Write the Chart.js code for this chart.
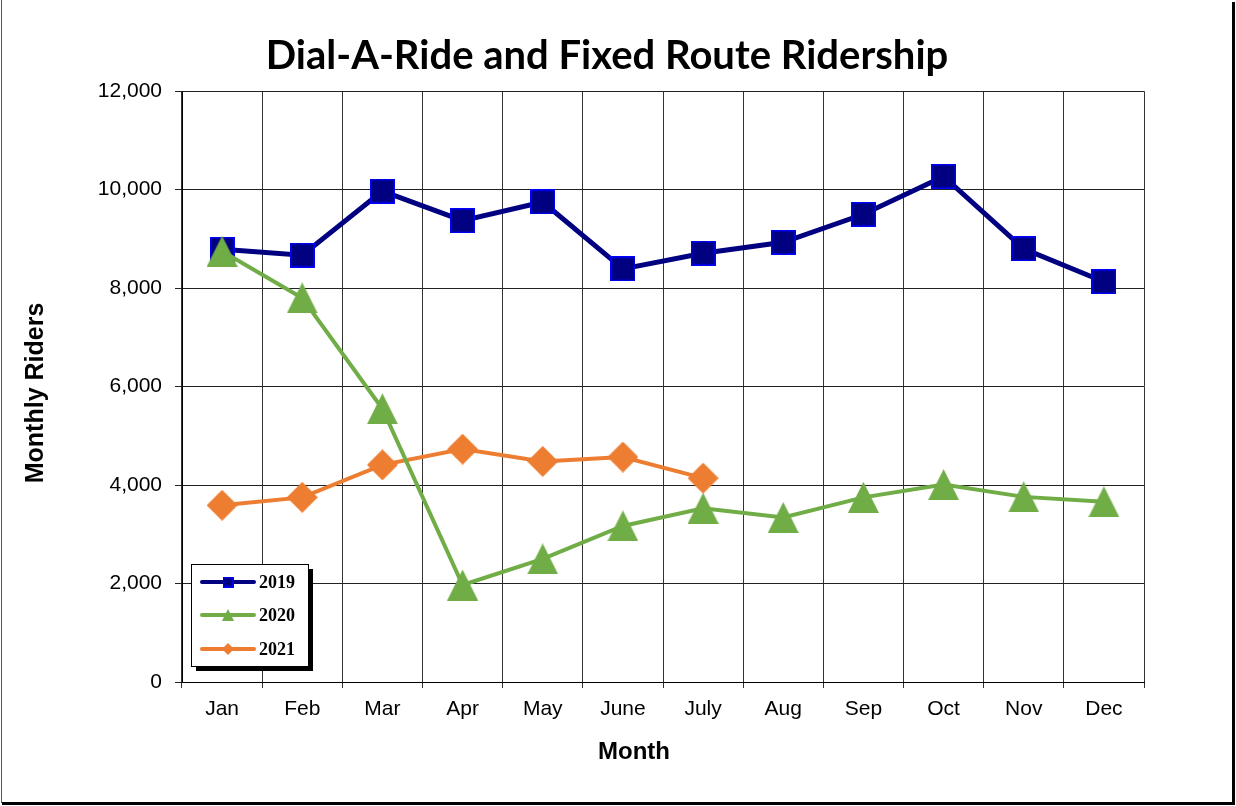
<!DOCTYPE html>
<html>
<head>
<meta charset="utf-8">
<title>Dial-A-Ride and Fixed Route Ridership</title>
<script src="https://cdn.jsdelivr.net/npm/chart.js@4/dist/chart.umd.min.js"></script>
<style>
  html, body { margin: 0; padding: 0; background: #fff; }
  #chart { display: block; }
</style>
</head>
<body>
<canvas id="chart" width="1236" height="806"></canvas>
<script>
// Data
const months = ['Jan', 'Feb', 'Mar', 'Apr', 'May', 'June', 'July', 'Aug', 'Sep', 'Oct', 'Nov', 'Dec'];
const riders2019 = [8790, 8670, 9970, 9370, 9750, 8390, 8710, 8930, 9500, 10270, 8800, 8130];
const riders2020 = [8750, 7800, 5550, 1970, 2500, 3170, 3530, 3340, 3750, 4010, 3760, 3660];
const riders2021 = [3590, 3750, 4410, 4730, 4480, 4570, 4140];
const yTicks = [0, 2000, 4000, 6000, 8000, 10000, 12000];

const TITLE = 'Dial-A-Ride and Fixed Route Ridership';
const X_TITLE = 'Month';
const Y_TITLE = 'Monthly Riders';

const NAVY = '#000080';
const GREEN = '#70AD47';
const ORANGE = '#ED7D31';
const SANS = '"Liberation Sans", Arial, sans-serif';

// Excel-style markers, drawn once on small canvases so they sit centred on the point
function makeMarker(kind, size) {
  const c = document.createElement('canvas');
  c.width = size; c.height = size;
  const g = c.getContext('2d');
  if (kind === 'square') {
    g.fillStyle = NAVY;
    g.fillRect(0, 0, size, size);
    g.strokeStyle = '#0000FF';
    g.lineWidth = 1.5;
    g.strokeRect(0.75, 0.75, size - 1.5, size - 1.5);
  } else if (kind === 'triangle') {
    g.fillStyle = GREEN;
    g.beginPath();
    g.moveTo(size / 2, 0);
    g.lineTo(size, size);
    g.lineTo(0, size);
    g.closePath();
    g.fill();
  } else {
    g.fillStyle = ORANGE;
    g.beginPath();
    g.moveTo(size / 2, 0);
    g.lineTo(size, size / 2);
    g.lineTo(size / 2, size);
    g.lineTo(0, size / 2);
    g.closePath();
    g.fill();
  }
  return c;
}

const markerSquare = makeMarker('square', 25);
const markerTriangle = makeMarker('triangle', 31);
const markerDiamond = makeMarker('diamond', 31);

// Outer frame with the heavy shadow on the right and bottom
const framePlugin = {
  id: 'frame',
  beforeDraw(chart) {
    const ctx = chart.ctx;
    ctx.save();
    ctx.fillStyle = '#fff';
    ctx.fillRect(0, 0, chart.width, chart.height);
    ctx.fillStyle = '#555';
    ctx.fillRect(1, 0, 1, 803);
    ctx.fillStyle = '#000';
    ctx.fillRect(1232, 2, 3, 803);
    ctx.fillRect(2, 802, 1233, 3);
    ctx.restore();
  }
};

// Chart title and axis titles. The originals are not centred on the plot,
// so they are drawn here rather than through the title options.
const titlesPlugin = {
  id: 'titles',
  afterDraw(chart) {
    const ctx = chart.ctx;
    ctx.save();
    ctx.fillStyle = '#000';
    ctx.textAlign = 'center';
    ctx.textBaseline = 'alphabetic';

    ctx.font = 'bold 40px Lato, "Open Sans", sans-serif';
    ctx.fillText(TITLE, 607, 69);

    ctx.font = 'bold 24px ' + SANS;
    ctx.fillText(X_TITLE, 634, 759);

    ctx.translate(43, 393);
    ctx.rotate(-Math.PI / 2);
    ctx.font = 'bold 25px ' + SANS;
    ctx.fillText(Y_TITLE, 0, 0);
    ctx.restore();
  }
};

// Legend box in the lower-left corner of the plot, with a drop shadow
const legendPlugin = {
  id: 'boxLegend',
  afterDraw(chart) {
    const ctx = chart.ctx;
    const x = 191, y = 564, w = 117, h = 102;
    ctx.save();
    ctx.fillStyle = '#000';
    ctx.fillRect(x + 5, y + 5, w, h);
    ctx.fillStyle = '#fff';
    ctx.fillRect(x, y, w, h);
    ctx.strokeStyle = '#000';
    ctx.lineWidth = 1;
    ctx.strokeRect(x + 0.5, y + 0.5, w, h);

    const rows = [
      { label: '2019', color: NAVY, kind: 'square', cy: 582 },
      { label: '2020', color: GREEN, kind: 'triangle', cy: 615 },
      { label: '2021', color: ORANGE, kind: 'diamond', cy: 649 }
    ];
    rows.forEach(r => {
      ctx.strokeStyle = r.color;
      ctx.lineWidth = 4;
      ctx.lineCap = 'round';
      ctx.beginPath();
      ctx.moveTo(202, r.cy);
      ctx.lineTo(254, r.cy);
      ctx.stroke();
      const m = makeMarker(r.kind, r.kind === 'square' ? 11 : 12);
      ctx.drawImage(m, 228 - m.width / 2, r.cy - m.height / 2);
      ctx.fillStyle = '#000';
      ctx.font = 'bold 18px "Liberation Serif", "Times New Roman", serif';
      ctx.textAlign = 'left';
      ctx.textBaseline = 'middle';
      ctx.fillText(r.label, 259, r.cy + 1);
    });
    ctx.restore();
  }
};

const ctx = document.getElementById('chart');
new Chart(ctx, {
  type: 'line',
  data: {
    labels: months,
    datasets: [
      { label: '2019', data: riders2019, borderColor: NAVY, backgroundColor: NAVY, borderWidth: 5,
        pointStyle: markerSquare, order: 2 },
      { label: '2020', data: riders2020, borderColor: GREEN, backgroundColor: GREEN, borderWidth: 4,
        pointStyle: markerTriangle, order: 0 },
      { label: '2021', data: riders2021, borderColor: ORANGE, backgroundColor: ORANGE, borderWidth: 4,
        pointStyle: markerDiamond, order: 1 }
    ]
  },
  options: {
    responsive: false,
    animation: false,
    devicePixelRatio: 1,
    layout: { padding: { left: 0, right: 92, top: 0, bottom: 0 } },
    elements: { line: { tension: 0 }, point: { radius: 15, hoverRadius: 15 } },
    plugins: {
      legend: { display: false },
      tooltip: { enabled: false },
      // kept only to reserve the band above the plot; the text itself is drawn by titlesPlugin
      title: {
        display: true,
        text: TITLE,
        color: 'rgba(0,0,0,0)',
        font: { family: 'Lato, sans-serif', size: 36, weight: 'bold', lineHeight: 1.2 },
        padding: { top: 35, bottom: 13 }
      }
    },
    scales: {
      x: {
        offset: true,
        grid: { offset: true, color: '#333', lineWidth: 1, tickLength: 6, drawTicks: true },
        border: { color: '#000' },
        ticks: { color: '#000', padding: 9, font: { family: SANS, size: 21 } },
        afterFit: scale => { scale.height = 124; }
      },
      y: {
        min: 0,
        max: 12000,
        afterBuildTicks: scale => { scale.ticks = yTicks.map(v => ({ value: v })); },
        grid: { color: '#222', lineWidth: 1, tickLength: 7 },
        border: { color: '#000' },
        ticks: {
          color: '#000', padding: 13,
          font: { family: SANS, size: 21 },
          callback: v => Number(v).toLocaleString('en-US')
        },
        afterFit: scale => { scale.width = 182; }
      }
    }
  },
  plugins: [framePlugin, titlesPlugin, legendPlugin]
});
</script>
</body>
</html>
